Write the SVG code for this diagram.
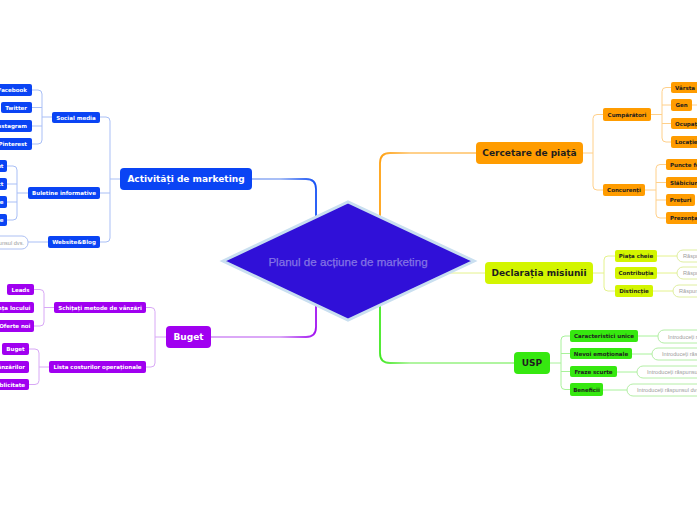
<svg xmlns="http://www.w3.org/2000/svg" width="697" height="520" viewBox="0 0 697 520">
<defs>
<linearGradient id="gBlue" gradientUnits="userSpaceOnUse" x1="280" y1="0" x2="316" y2="0"><stop offset="0" stop-color="#a9bff6"/><stop offset="1" stop-color="#1450f5"/></linearGradient>
<linearGradient id="gPurple" gradientUnits="userSpaceOnUse" x1="280" y1="0" x2="316" y2="0"><stop offset="0" stop-color="#dba8f7"/><stop offset="1" stop-color="#a010f0"/></linearGradient>
<linearGradient id="gOrange" gradientUnits="userSpaceOnUse" x1="410" y1="0" x2="380" y2="0"><stop offset="0" stop-color="#ffd08a"/><stop offset="1" stop-color="#ffa010"/></linearGradient>
<linearGradient id="gGreen" gradientUnits="userSpaceOnUse" x1="410" y1="0" x2="380" y2="0"><stop offset="0" stop-color="#b0f5a0"/><stop offset="1" stop-color="#40e820"/></linearGradient>
</defs>
<style>
.t{font-family:"DejaVu Sans",Verdana,sans-serif;font-weight:bold;text-anchor:middle;dominant-baseline:central}
.m{font-size:9px}
.s{font-size:5.5px}
.w{fill:#ffffff}
.k{fill:#1e1e1e}
.e{text-anchor:end}
.st{text-anchor:start}
.blue{fill:#0a44f4}
.purple{fill:#a000f0}
.orange{fill:#ff9c00}
.lime{fill:#d3f500}
.green{fill:#36e810}
.in{fill:#ffffff;stroke-width:1}
.it{font-family:"Liberation Sans",Arial,sans-serif;font-size:5.6px;fill:#9c9c9c;dominant-baseline:central}
.c{fill:none;stroke-width:1}
.cb{stroke:#a9bff6}
.cp{stroke:#d8a8f6}
.co{stroke:#ffd08a}
.cl{stroke:#e4f28c}
.cg{stroke:#a8f29a}
</style>
<g id="connectors">
<path d="M252,179 H306 Q316,179 316,189 V222" fill="none" stroke="url(#gBlue)" stroke-width="1.8"/>
<path d="M211,337 H306 Q316,337 316,327 V300" fill="none" stroke="url(#gPurple)" stroke-width="1.8"/>
<path d="M476,153 H390 Q380,153 380,163 V222" fill="none" stroke="url(#gOrange)" stroke-width="1.8"/>
<path d="M514,363 H390 Q380,363 380,353 V300" fill="none" stroke="url(#gGreen)" stroke-width="1.8"/>
<path d="M450,273 H485" class="c cl" stroke-width="1.2"/>
<path class="c cb" d="M100,117 H106 Q110,117 110,121 V238 Q110,242 106,242 H100 M110,179 H120 M110,193 H100"/>
<path class="c cb" d="M32,90 H38 Q42,90 42,94 V140 Q42,144 38,144 H32 M42,117 H52 M42,107.5 H32 M42,126 H32"/>
<path class="c cb" d="M7,166 H13 Q17,166 17,170 V216 Q17,220 13,220 H7 M17,184 H7 M17,202 H7 M17,193 H28"/>
<path class="c cb" d="M48,242 H28"/>
<path class="c cp" d="M146,307.5 H151 Q155,307.5 155,311.5 V363 Q155,367 151,367 H146 M155,337 H166"/>
<path class="c cp" d="M34,289.5 H40 Q44,289.5 44,293.5 V322 Q44,326 40,326 H34 M44,307.5 H54"/>
<path class="c cp" d="M29,349 H35 Q39,349 39,353 V380.5 Q39,384.5 35,384.5 H29 M39,367 H49"/>
<path class="c co" d="M583,153 H593 M603,114.5 H597 Q593,114.5 593,118.5 V186 Q593,190 597,190 H603"/>
<path class="c co" d="M651,114.5 H662 M671,87.5 H666 Q662,87.5 662,91.5 V138 Q662,142 666,142 H671 M662,105 H671 M662,123.5 H671 M692,105 H697"/>
<path class="c co" d="M645,190 H656 M666,164.5 H660 Q656,164.5 656,168.5 V214 Q656,218 660,218 H666 M656,182.5 H666 M656,200 H666"/>
<path class="c cl" d="M593,273 H604 M615,256 H608 Q604,256 604,260 V287 Q604,291 608,291 H615"/>
<path class="c cl" d="M657,256 H677 M657,273 H677 M653,291 H673"/>
<path class="c cg" d="M550,363 H561 M570,336 H565 Q561,336 561,340 V385.5 Q561,389.5 565,389.5 H570 M561,353.5 H570 M561,371.5 H570"/>
<path class="c cg" d="M638,336 H658 M632,354 H652 M617,372 H637 M603,390 H627"/>
</g>
<g id="center">
<polygon points="223,261 348,202 474,261 348,320" fill="#3010d8" stroke="#c9dff0" stroke-width="3" stroke-linejoin="miter"/>
<text x="348" y="261" font-family="Liberation Sans, Arial, sans-serif" font-size="11.6" fill="#8474e4" text-anchor="middle" dominant-baseline="central" stroke="#8474e4" stroke-width="0.25">Planul de acțiune de marketing</text>
</g>
<g id="activitati"><rect x="120" y="168" width="132" height="22" rx="4" class="blue"/><text x="186" y="179" class="t m w">Activități de marketing</text></g>
<g id="social-media"><rect x="52" y="112" width="48" height="11" rx="2" class="blue"/><text x="76" y="117.5" class="t s w">Social media</text></g>
<g id="facebook"><rect x="-12" y="84" width="44" height="12" rx="2" class="blue"/><text x="27" y="90" class="t s w e">Facebook</text></g>
<g id="twitter"><rect x="1" y="102" width="31" height="11" rx="2" class="blue"/><text x="27" y="107.5" class="t s w e">Twitter</text></g>
<g id="instagram"><rect x="-12" y="120" width="44" height="12" rx="2" class="blue"/><text x="27" y="126" class="t s w e">Instagram</text></g>
<g id="pinterest"><rect x="-6" y="138" width="38" height="12" rx="2" class="blue"/><text x="27" y="144" class="t s w e">Pinterest</text></g>
<g id="buletine"><rect x="28" y="187" width="72" height="12" rx="2" class="blue"/><text x="64" y="193" class="t s w">Buletine informative</text></g>
<g id="buletine-1"><rect x="-30" y="160" width="37" height="12" rx="2" class="blue"/><text x="3.5" y="166" class="t s w e">Conținut</text></g>
<g id="buletine-2"><rect x="-30" y="178" width="37" height="12" rx="2" class="blue"/><text x="3.5" y="184" class="t s w e">Aspect</text></g>
<g id="buletine-3"><rect x="-30" y="196" width="37" height="12" rx="2" class="blue"/><text x="3.5" y="202" class="t s w e">Obiective</text></g>
<g id="buletine-4"><rect x="-30" y="214" width="37" height="12" rx="2" class="blue"/><text x="3.5" y="220" class="t s w e">Perioade</text></g>
<g id="website"><rect x="48" y="236" width="52" height="12" rx="2" class="blue"/><text x="74" y="242" class="t s w">Website&amp;Blog</text></g>
<g id="website-input"><rect x="-60" y="236" width="88" height="13" rx="6" class="in" stroke="#adc0f3"/><text x="24" y="242.5" class="it" text-anchor="end">Introduceți răspunsul dvs.</text></g>
<g id="buget"><rect x="166" y="326" width="45" height="22" rx="4" class="purple"/><text x="188.5" y="337" class="t m w">Buget</text></g>
<g id="schitati"><rect x="54" y="302" width="92" height="11" rx="2" class="purple"/><text x="100" y="307.5" class="t s w">Schițați metode de vânzări</text></g>
<g id="leads"><rect x="7" y="284" width="27" height="11" rx="2" class="purple"/><text x="20.5" y="289.5" class="t s w">Leads</text></g>
<g id="locului"><rect x="-30" y="302" width="64" height="11" rx="2" class="purple"/><text x="30.5" y="307.5" class="t s w e">Prezența locului</text></g>
<g id="oferte"><rect x="-6" y="320" width="40" height="12" rx="2" class="purple"/><text x="30.5" y="326" class="t s w e">Oferte noi</text></g>
<g id="lista"><rect x="49" y="361" width="97" height="12" rx="2" class="purple"/><text x="97.5" y="367" class="t s w">Lista costurilor operaționale</text></g>
<g id="buget-leaf"><rect x="2" y="343" width="27" height="12" rx="2" class="purple"/><text x="15.5" y="349" class="t s w">Buget</text></g>
<g id="vanzarilor"><rect x="-40" y="361" width="69" height="12" rx="2" class="purple"/><text x="25" y="367" class="t s w e">Costul vânzărilor</text></g>
<g id="publicitate"><rect x="-20" y="379" width="49" height="11" rx="2" class="purple"/><text x="25" y="384.5" class="t s w e">Publicitate</text></g>
<g id="cercetare"><rect x="476" y="142" width="107" height="22" rx="4" class="orange"/><text x="529.5" y="153" class="t m k">Cercetare de piață</text></g>
<g id="cumparatori"><rect x="603" y="108" width="48" height="13" rx="2" class="orange"/><text x="627" y="114.5" class="t s k">Cumpărători</text></g>
<g id="varsta"><rect x="671" y="82" width="40" height="11" rx="2" class="orange"/><text x="675" y="87.5" class="t s k st">Vârsta</text></g>
<g id="gen"><rect x="671" y="99" width="21" height="12" rx="2" class="orange"/><text x="681.5" y="105" class="t s k">Gen</text></g>
<g id="ocupatia"><rect x="671" y="118" width="40" height="11" rx="2" class="orange"/><text x="675" y="123.5" class="t s k st">Ocupația</text></g>
<g id="locatie"><rect x="671" y="136" width="40" height="12" rx="2" class="orange"/><text x="675" y="142" class="t s k st">Locație</text></g>
<g id="concurenti"><rect x="603" y="184" width="42" height="12" rx="2" class="orange"/><text x="624" y="190" class="t s k">Concurenți</text></g>
<g id="puncte"><rect x="666" y="159" width="50" height="11" rx="2" class="orange"/><text x="670" y="164.5" class="t s k st">Puncte forte</text></g>
<g id="slabiciuni"><rect x="666" y="177" width="50" height="11" rx="2" class="orange"/><text x="670" y="182.5" class="t s k st">Slăbiciuni</text></g>
<g id="preturi"><rect x="666" y="194" width="29" height="12" rx="2" class="orange"/><text x="680.5" y="200" class="t s k">Prețuri</text></g>
<g id="prezenta"><rect x="666" y="212" width="50" height="12" rx="2" class="orange"/><text x="670" y="218" class="t s k st">Prezența online</text></g>
<g id="declaratia"><rect x="485" y="262" width="108" height="22" rx="4" class="lime"/><text x="539" y="273" class="t m k">Declarația misiunii</text></g>
<g id="piata"><rect x="615" y="250" width="42" height="12" rx="2" class="lime"/><text x="636" y="256" class="t s k">Piața cheie</text></g>
<g id="piata-input"><rect x="677" y="250" width="80" height="12" rx="6" class="in" stroke="#dfeea0"/><text x="683" y="256" class="it">Răspunsul dvs.</text></g>
<g id="contributia"><rect x="615" y="267" width="42" height="12" rx="2" class="lime"/><text x="636" y="273" class="t s k">Contribuția</text></g>
<g id="contributia-input"><rect x="677" y="267" width="80" height="12" rx="6" class="in" stroke="#dfeea0"/><text x="683" y="273" class="it">Răspunsul dvs.</text></g>
<g id="distinctie"><rect x="615" y="285" width="38" height="12" rx="2" class="lime"/><text x="634" y="291" class="t s k">Distincție</text></g>
<g id="distinctie-input"><rect x="673" y="285" width="80" height="12" rx="6" class="in" stroke="#dfeea0"/><text x="679" y="291" class="it">Răspunsul dvs.</text></g>
<g id="usp"><rect x="514" y="352" width="36" height="22" rx="4" class="green"/><text x="532" y="363" class="t m k">USP</text></g>
<g id="caracteristici"><rect x="570" y="330" width="68" height="12" rx="2" class="green"/><text x="604" y="336" class="t s k">Caracteristici unice</text></g>
<g id="caracteristici-input"><rect x="658" y="330" width="90" height="13" rx="6" class="in" stroke="#b4eea6"/><text x="668" y="336.5" class="it">Introduceți răspunsul dvs.</text></g>
<g id="nevoi"><rect x="570" y="348" width="62" height="11" rx="2" class="green"/><text x="601" y="353.5" class="t s k">Nevoi emoționale</text></g>
<g id="nevoi-input"><rect x="652" y="348" width="90" height="12" rx="6" class="in" stroke="#b4eea6"/><text x="662" y="354" class="it">Introduceți răspunsul dvs.</text></g>
<g id="fraze"><rect x="570" y="366" width="47" height="11" rx="2" class="green"/><text x="593.5" y="371.5" class="t s k">Fraze scurte</text></g>
<g id="fraze-input"><rect x="637" y="366" width="90" height="12" rx="6" class="in" stroke="#b4eea6"/><text x="647" y="372" class="it">Introduceți răspunsul dvs.</text></g>
<g id="beneficii"><rect x="570" y="383" width="33" height="13" rx="2" class="green"/><text x="586.5" y="389.5" class="t s k">Beneficii</text></g>
<g id="beneficii-input"><rect x="627" y="384" width="90" height="12" rx="6" class="in" stroke="#b4eea6"/><text x="637" y="390" class="it">Introduceți răspunsul dvs.</text></g>
</svg>
